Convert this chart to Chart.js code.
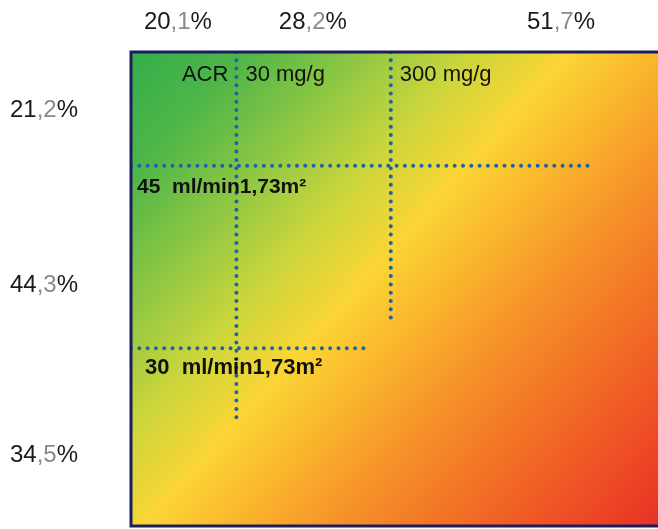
<!DOCTYPE html>
<html>
<head>
<meta charset="utf-8">
<script src="https://cdn.jsdelivr.net/npm/chart.js@4"></script>
<style>
  html, body { margin: 0; padding: 0; background: #ffffff; }
  #wrap { width: 658px; height: 529px; position: relative; }
</style>
</head>
<body>
<div id="wrap"><canvas id="c"></canvas></div>
<script>
// Albuminuria (ACR) columns and eGFR rows: share of patients in each band
const acrShares = ['20,1%', '28,2%', '51,7%'];
const egfrShares = ['21,2%', '44,3%', '34,5%'];

// Thresholds on a 0–100 grid (x: ACR, y: eGFR from top)
const acrCuts = [20, 49.3];
const acrCutLabels = ['30 mg/g', '300 mg/g'];
const acrCutEnds = [77.2, 56.6];        // how far down each ACR threshold runs
const egfrCuts = [24, 62.5];
const egfrCutLabels = ['45  ml/min1,73m²', '30  ml/min1,73m²'];
const egfrCutEnds = [86.8, 45.2];       // how far right each eGFR threshold runs

// Anchor points for the share labels (grid units)
const acrShareX = [8.9, 34.5, 81.6];
const egfrShareY = [12.4, 49.3, 85];

const dotColor = '#1f62a6';

const datasets = [];
acrCuts.forEach((x, i) => {
  datasets.push({ label: acrCutLabels[i], data: [{ x: x, y: 0 }, { x: x, y: acrCutEnds[i] }] });
});
egfrCuts.forEach((y, i) => {
  datasets.push({ label: egfrCutLabels[i], data: [{ x: 0, y: y }, { x: egfrCutEnds[i], y: y }] });
});
datasets.forEach(d => Object.assign(d, {
  showLine: true,
  borderColor: dotColor,
  borderWidth: 4,
  borderDash: [0, 8.3],
  borderCapStyle: 'round',
  pointRadius: 0,
  fill: false
}));

// Diagonal heat gradient behind the grid plus the dark frame
const heatBackground = {
  id: 'heatBackground',
  beforeDatasetsDraw(chart) {
    const { ctx, chartArea: a } = chart;
    const g = ctx.createLinearGradient(a.left, a.top, a.right, a.bottom);
    g.addColorStop(0.00, '#33ae4b');
    g.addColorStop(0.12, '#4fb648');
    g.addColorStop(0.25, '#92c843');
    g.addColorStop(0.36, '#cdd63b');
    g.addColorStop(0.46, '#fbd535');
    g.addColorStop(0.55, '#fab72d');
    g.addColorStop(0.65, '#f6952a');
    g.addColorStop(0.75, '#f37826');
    g.addColorStop(0.87, '#ef5525');
    g.addColorStop(1.00, '#e93126');
    ctx.save();
    ctx.fillStyle = g;
    ctx.fillRect(a.left, a.top, a.right - a.left, a.bottom - a.top);
    ctx.restore();
  },
  afterDatasetsDraw(chart) {
    const { ctx, chartArea: a } = chart;
    ctx.save();
    ctx.strokeStyle = '#1b1d5c';
    ctx.lineWidth = 3;
    ctx.beginPath();
    ctx.moveTo(a.right + 2, a.top);
    ctx.lineTo(a.left, a.top);
    ctx.lineTo(a.left, a.bottom);
    ctx.lineTo(a.right + 2, a.bottom);
    ctx.stroke();
    ctx.restore();
  }
};

// Text: shares outside the grid, threshold names inside it
function drawShare(ctx, text, cx, cy) {
  const m = text.match(/^(\d+)(,\d)(%)$/);
  const parts = [[m[1], '#1a1a1a'], [m[2], '#8a8a8a'], [m[3], '#1a1a1a']];
  const total = parts.reduce((s, p) => s + ctx.measureText(p[0]).width, 0);
  let x = cx - total / 2;
  parts.forEach(([t, col]) => {
    ctx.fillStyle = col;
    ctx.fillText(t, x, cy);
    x += ctx.measureText(t).width;
  });
}

const labelsPlugin = {
  id: 'gridLabels',
  afterDraw(chart) {
    const { ctx } = chart;
    const xs = chart.scales.x, ys = chart.scales.y;
    ctx.save();
    ctx.textBaseline = 'middle';
    ctx.textAlign = 'left';
    ctx.font = '24px "Liberation Sans", Arial, sans-serif';
    acrShares.forEach((t, i) => drawShare(ctx, t, xs.getPixelForValue(acrShareX[i]), 22));
    egfrShares.forEach((t, i) => drawShare(ctx, t, 44, ys.getPixelForValue(egfrShareY[i])));

    ctx.fillStyle = '#111111';
    ctx.font = '22px "Liberation Sans", Arial, sans-serif';
    ctx.textAlign = 'right';
    ctx.fillText('ACR', xs.getPixelForValue(acrCuts[0]) - 8, 75);
    ctx.textAlign = 'left';
    acrCutLabels.forEach((t, i) => ctx.fillText(t, xs.getPixelForValue(acrCuts[i]) + 9, 75));

    ctx.font = 'bold 21px "Liberation Sans", Arial, sans-serif';
    ctx.fillText(egfrCutLabels[0], xs.getPixelForValue(0) + 6, ys.getPixelForValue(egfrCuts[0]) + 21);
    ctx.font = 'bold 22px "Liberation Sans", Arial, sans-serif';
    ctx.fillText(egfrCutLabels[1], xs.getPixelForValue(0) + 14, ys.getPixelForValue(egfrCuts[1]) + 20);
    ctx.restore();
  }
};

new Chart(document.getElementById('c'), {
  type: 'scatter',
  data: { datasets },
  options: {
    responsive: true,
    maintainAspectRatio: false,
    animation: false,
    layout: { padding: { left: 131, top: 52, right: 0, bottom: 3 } },
    plugins: { legend: { display: false }, tooltip: { enabled: false } },
    scales: {
      x: { type: 'linear', min: 0, max: 100, display: false },
      y: { type: 'linear', min: 0, max: 100, reverse: true, display: false }
    }
  },
  plugins: [heatBackground, labelsPlugin]
});
</script>
</body>
</html>
